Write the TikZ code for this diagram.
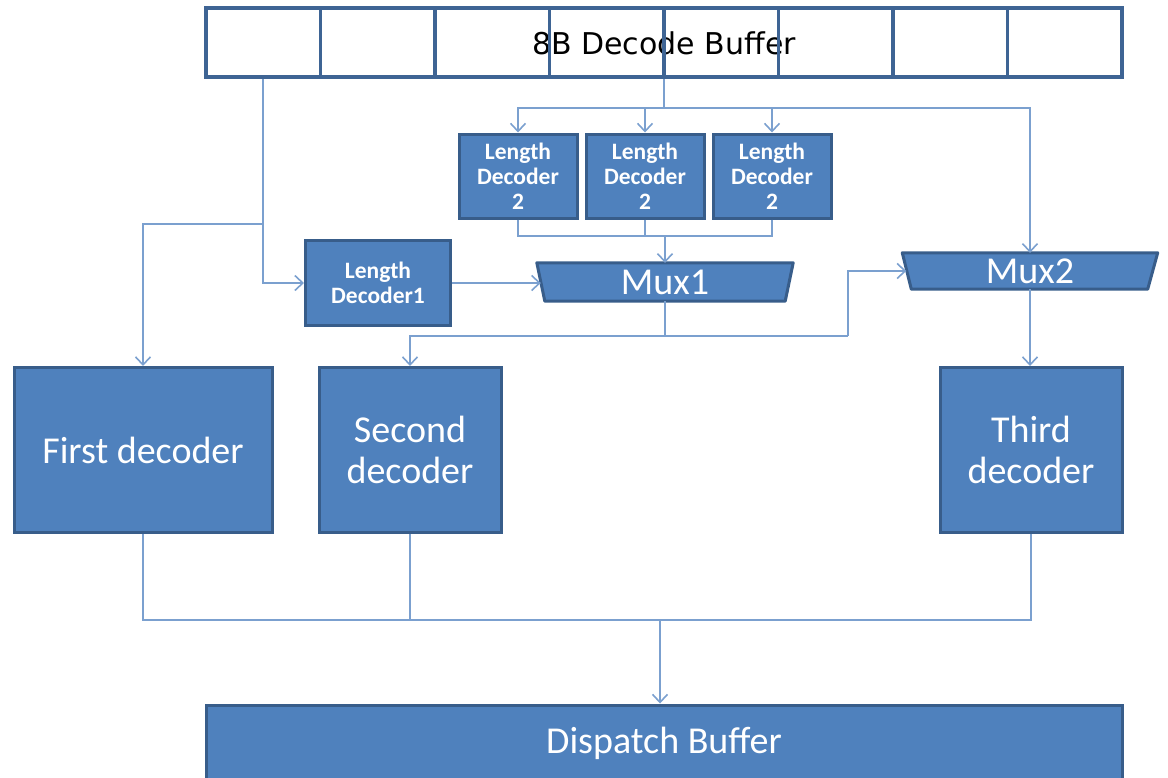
\documentclass[tikz,border=0pt]{standalone}
\usepackage{fontspec}
\setmainfont{Carlito}
\newfontfamily\dvs{DejaVu Sans}
\usetikzlibrary{arrows.meta,backgrounds}
\definecolor{boxfill}{HTML}{4F81BD}
\definecolor{boxedge}{HTML}{385D8A}
\definecolor{bufedge}{HTML}{3E6494}
\definecolor{conncol}{HTML}{7BA0CF}
\tikzset{
  blk/.style={draw=boxedge, line width=3pt, fill=boxfill, text=white, align=center, inner sep=0pt},
  ldbox/.style={blk, minimum width=118pt, minimum height=84pt, font=\bfseries\fontsize{23.5}{25}\selectfont},
  decbox/.style={blk, minimum width=182pt, minimum height=165pt, font=\fontsize{38}{41}\selectfont},
  muxtxt/.style={minimum width=256pt, minimum height=38pt, inner sep=0pt, text=white, font=\fontsize{38}{40}\selectfont},
  muxshape/.style={draw=boxedge, line width=3pt, fill=boxfill, line join=round},
  cell/.style={draw=bufedge, line width=3.5pt, minimum width=114.5pt, minimum height=69pt, inner sep=0pt},
  conn/.style={draw=conncol, line width=1.8pt},
  arr/.style={conn, -{Straight Barb[length=8pt,width=15pt,line width=1.6pt]}}
}
\begin{document}
\begin{tikzpicture}[x=1pt,y=-1pt]
\useasboundingbox (0,0) rectangle (1168,777);
% top buffer
\node[draw=bufedge, fill=white, line width=3.5pt, minimum width=916pt, minimum height=69pt, inner sep=0pt] (buf) at (664,42.5) {};
\node[font=\dvs\fontsize{30}{34}\selectfont, text=black] (buftxt) at (664,43) {8B Decode Buffer};
\foreach \i in {1,...,8} {
  \node[cell] (c\i) at ({206+114.5*(\i-0.5)},42.5) {};
}

% length decoders 2
\node[ldbox] (ld2a) at (518,176) {Length\\Decoder\\2};
\node[ldbox] (ld2b) at (645,176) {Length\\Decoder\\2};
\node[ldbox] (ld2c) at (772,176) {Length\\Decoder\\2};
% length decoder 1
\node[ldbox, minimum width=145pt, minimum height=85pt] (ld1) at (378,283) {Length\\Decoder1};

% muxes
\node[muxtxt] (mux1) at (665,282) {Mux1};
\node[muxtxt, minimum width=255pt, minimum height=36pt] (mux2) at (1030,271) {Mux2};
\begin{pgfonlayer}{background}
\draw[muxshape] (mux1.north west) -- (mux1.north east) -- ([xshift=-8pt]mux1.south east) -- ([xshift=8pt]mux1.south west) -- cycle;
\draw[muxshape] (mux2.north west) -- (mux2.north east) -- ([xshift=-10pt]mux2.south east) -- ([xshift=9pt]mux2.south west) -- cycle;
\end{pgfonlayer}

% decoders
\node[decbox, minimum width=258pt] (dec1) at (143,450) {First decoder};
\node[decbox] (dec2) at (410,450) {Second\\decoder};
\node[decbox] (dec3) at (1031,450) {Third\\decoder};

% dispatch buffer
\node[blk, minimum width=916pt, minimum height=76pt, font=\fontsize{38}{40}\selectfont] (disp) at (664,743) {Dispatch Buffer};

% connectors
\coordinate (j1) at (263,224);
\draw[arr] (c1.south) |- (ld1.west);
\draw[arr] (j1) -| (dec1.north);

\coordinate (t) at (664,108);
\draw[conn] (buf.south) -- (t);
\draw[arr] (t) -| (ld2a.north);
\draw[arr] (t) -| (ld2b.north);
\draw[arr] (t) -| (ld2c.north);
\draw[arr] (t) -| (mux2.north);

\coordinate (b2) at (645,236);
\draw[conn] (ld2a.south) |- (b2);
\draw[conn] (ld2c.south) |- (b2);
\draw[conn] (ld2b.south) -- (b2);
\draw[arr] (b2 -| mux1.north) -- (mux1.north);

\draw[arr] (ld1.east) -- ([xshift=4pt]mux1.west |- ld1.east);

\coordinate (m) at (665,336);
\draw[conn] (mux1.south) -- (m);
\draw[arr] (m) -| (dec2.north);
\coordinate (k) at (848,336);
\draw[conn] (m) -- (k);
\draw[arr] (k) |- ([xshift=4pt]mux2.west);
\draw[arr] (mux2.south) -- (mux2.south |- dec3.north);

\coordinate (bj) at (660,620);
\draw[conn] (dec1.south) |- (bj);
\draw[conn] (dec2.south) |- (bj);
\draw[conn] (dec3.south) |- (bj);
\draw[arr] (bj) -- (bj |- disp.north);
\end{tikzpicture}
\end{document}
